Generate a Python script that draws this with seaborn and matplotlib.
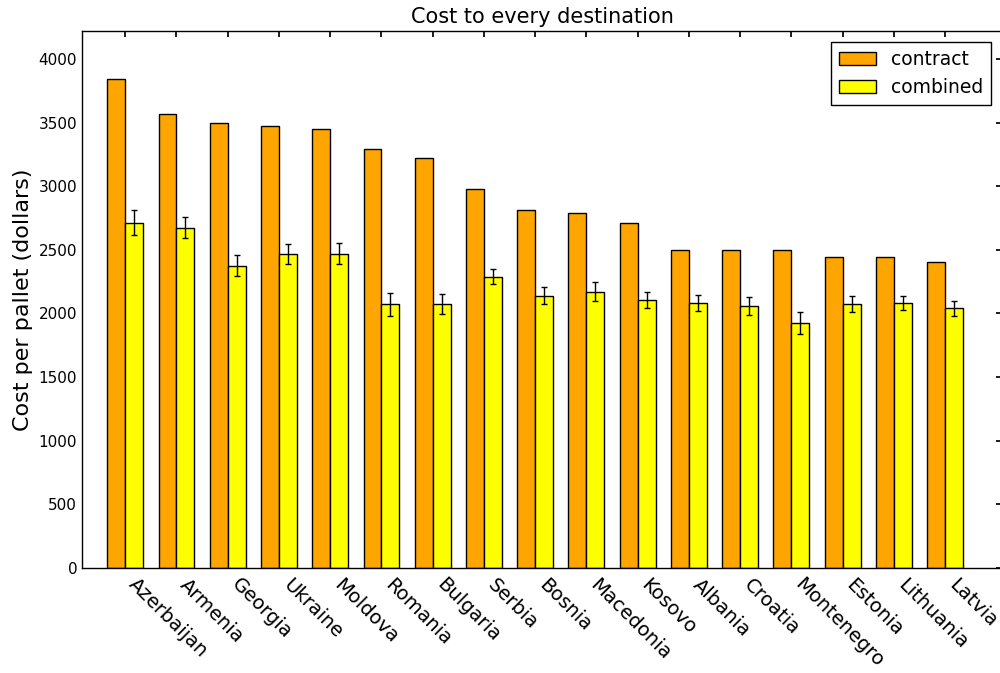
import matplotlib
matplotlib.use('Agg')
import matplotlib.pyplot as plt
import seaborn as sns
import pandas as pd

# values
countries = ['Azerbaijan', 'Armenia', 'Georgia', 'Ukraine', 'Moldova', 'Romania',
             'Bulgaria', 'Serbia', 'Bosnia', 'Macedonia', 'Kosovo', 'Albania',
             'Croatia', 'Montenegro', 'Estonia', 'Lithuania', 'Latvia']
contract = [3840, 3570, 3500, 3470, 3450, 3290, 3225, 2975, 2810, 2790, 2710,
            2500, 2500, 2500, 2440, 2440, 2405]
combined = [2714, 2674, 2376, 2468, 2468, 2072, 2075, 2289, 2140, 2172, 2106,
            2083, 2061, 1923, 2072, 2085, 2041]
combined_err = [100, 82, 85, 78, 82, 90, 78, 61, 68, 72, 60, 60, 70, 85, 62, 55, 60]
series_names = ['contract', 'combined']
series_colors = ['#FFA500', '#FFFF00']

sns.set_theme(style='white')
plt.rcParams.update({
    'font.family': ['DejaVu Sans'],
    'text.color': 'black',
    'axes.labelcolor': 'black',
    'xtick.color': 'black',
    'ytick.color': 'black',
    'xtick.direction': 'in',
    'ytick.direction': 'in',
    'xtick.top': True,
    'ytick.right': True,
    'xtick.major.size': 4,
    'ytick.major.size': 4,
    'axes.edgecolor': 'black',
    'axes.linewidth': 1.0,
})

df = pd.DataFrame({
    'country': countries * 2,
    'cost': contract + combined,
    'series': [series_names[0]] * len(countries) + [series_names[1]] * len(countries),
})

fig = plt.figure(figsize=(10, 6.73), dpi=100)
ax = fig.add_axes([0.082, 0.156, 0.92, 0.798])

sns.barplot(data=df, x='country', y='cost', hue='series', hue_order=series_names,
            palette=dict(zip(series_names, series_colors)), errorbar=None,
            saturation=1, width=0.7, gap=0, edgecolor='black', linewidth=1, ax=ax)

# error bars on the combined series, centred on its bars
xs = [p.get_x() + p.get_width() / 2 for p in ax.containers[1]]
ax.errorbar(xs, combined, yerr=combined_err, fmt='none', ecolor='black',
            elinewidth=1, capsize=2.5, capthick=1, zorder=3)

ax.set_xlim(-0.844, 17.11)
ax.set_ylim(0, 4220)
ax.set_yticks(range(0, 4001, 500))
ax.tick_params(axis='y', labelsize=11)
ax.tick_params(axis='x', labelsize=14, pad=5)
plt.setp(ax.get_xticklabels(), rotation=-45, ha='left')
ax.set_xlabel('')
ax.set_ylabel('Cost per pallet (dollars)', fontsize=16)
ax.set_title('Cost to every destination', fontsize=15)

handles, labels = ax.get_legend_handles_labels()
ax.legend(handles, labels, loc='upper right', fontsize=13.5, frameon=True,
          fancybox=False, edgecolor='black', framealpha=1, title=None,
          labelcolor='black', borderaxespad=0.6)

fig.savefig('out.png', dpi=100, facecolor='white')
